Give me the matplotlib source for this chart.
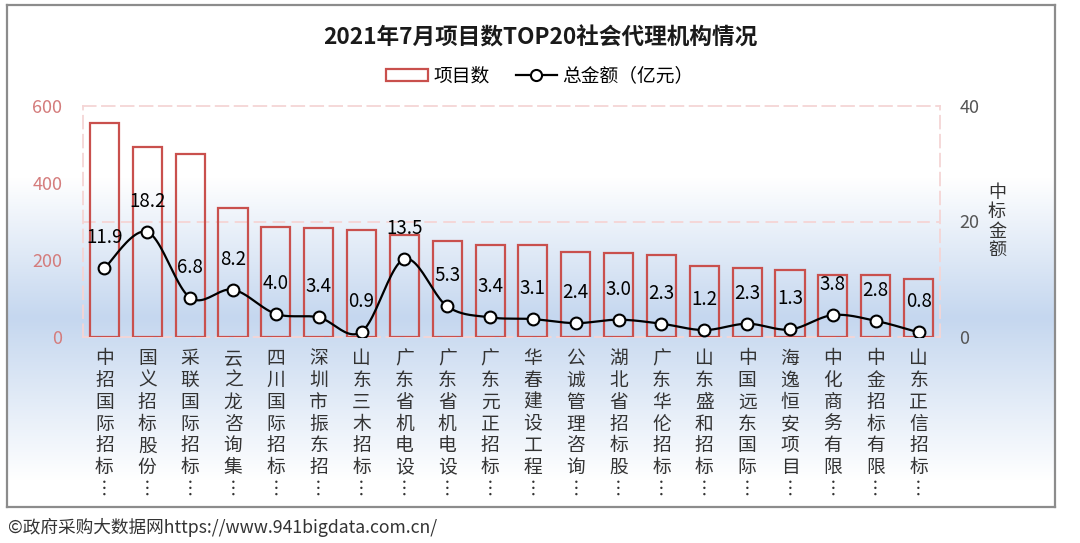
import numpy as np
import matplotlib
matplotlib.use("Agg")
import matplotlib.pyplot as plt
from matplotlib.patches import Rectangle
from matplotlib.lines import Line2D

plt.rcParams['font.family'] = ['Noto Sans CJK SC', 'DejaVu Sans']

# data
names = ["中招国际招标", "国义招标股份", "采联国际招标", "云之龙咨询集", "四川国际招标",
         "深圳市振东招", "山东三木招标", "广东省机电设", "广东省机电设", "广东元正招标",
         "华春建设工程", "公诚管理咨询", "湖北省招标股", "广东华伦招标", "山东盛和招标",
         "中国远东国际", "海逸恒安项目", "中化商务有限", "中金招标有限", "山东正信招标"]
counts = [557, 493, 475, 335, 286, 284, 277, 266, 250, 240,
          240, 221, 219, 214, 184, 180, 175, 162, 160, 151]
amounts = [11.9, 18.2, 6.8, 8.2, 4.0, 3.4, 0.9, 13.5, 5.3, 3.4,
           3.1, 2.4, 3.0, 2.3, 1.2, 2.3, 1.3, 3.8, 2.8, 0.8]

title = "2021年7月项目数TOP20社会代理机构情况"
footer = "©政府采购大数据网https://www.941bigdata.com.cn/"

red = '#c9504d'
grid_c = '#f5d5d5'


def smooth_curve(x, y, n=24):
    # catmull-rom style bezier, like the "smoothed line" option of office charts
    p = np.column_stack([x, y]).astype(float)
    pts = np.vstack([p[0], p, p[-1]])
    t = np.linspace(0, 1, n)[:, None]
    out = []
    for i in range(1, len(pts) - 2):
        p0, p1, p2, p3 = pts[i - 1], pts[i], pts[i + 1], pts[i + 2]
        c1 = p1 + (p2 - p0) / 6
        c2 = p2 - (p3 - p1) / 6
        seg = ((1 - t) ** 3) * p1 + 3 * ((1 - t) ** 2) * t * c1 + 3 * (1 - t) * t ** 2 * c2 + t ** 3 * p2
        out.append(seg if i == 1 else seg[1:])
    out = np.vstack(out)
    return out[:, 0], out[:, 1]


W, H = 1080, 543
fig = plt.figure(figsize=(W / 100, H / 100), dpi=100)

# framed background with vertical gradient
fx0, fx1, fy0, fy1 = 7, 1055, 5, 507
bg = fig.add_axes([fx0 / W, 1 - fy1 / H, (fx1 - fx0) / W, (fy1 - fy0) / H], zorder=-5)
rows = np.arange(fy0, fy1)
white = np.array([1.0, 1.0, 1.0])
blue = np.array([197, 215, 239]) / 255
stops_y = [fy0, 177, 317, 480, fy1]
stops_f = [0, 0, 1, 0, 0]
f = np.interp(rows, stops_y, stops_f)[:, None]
grad = white * (1 - f) + blue * f
bg.imshow(grad[:, None, :], aspect='auto', extent=[0, 1, 0, 1])
bg.set_xticks([])
bg.set_yticks([])
for s in bg.spines.values():
    s.set_color('#8c8c8c')
    s.set_linewidth(1.6)

# main chart
ax = fig.add_axes([83 / W, 1 - 337 / H, (940 - 83) / W, (337 - 106) / H])
ax.set_facecolor('none')
x = np.arange(len(names))
ax.bar(x, counts, width=0.68, facecolor='none', edgecolor=red, linewidth=1.6, zorder=3)
ax.set_xlim(-0.5, len(names) - 0.5)
ax.set_ylim(0, 600)
ax.set_yticks([0, 200, 400, 600])
ax.tick_params(axis='y', colors='#d47c7c', labelsize=13, length=0, pad=15)
ax.axhline(300, color=grid_c, lw=1.3, ls=(0, (7, 3.5)), zorder=1)
for s in ax.spines.values():
    s.set_color(grid_c)
    s.set_linewidth(1.3)
    s.set_linestyle((0, (7, 3.5)))

labels = ["\n".join(n) + "\n︙" for n in names]
ax.set_xticks(x)
ax.set_xticklabels(labels, fontsize=13.5, color='#333333', linespacing=1.05, va='top')
ax.tick_params(axis='x', length=0, pad=8)

ax2 = ax.twinx()
ax2.set_ylim(0, 40)
ax2.set_yticks([0, 20, 40])
ax2.tick_params(axis='y', colors='#555555', labelsize=13, length=0, pad=14)
for s in ax2.spines.values():
    s.set_visible(False)
sx, sy = smooth_curve(x, amounts)
ax2.plot(sx, sy, color='black', lw=1.6, zorder=4)
ax2.plot(x, amounts, ls='none', marker='o', markersize=8.5, markerfacecolor='white',
         markeredgecolor='black', markeredgewidth=1.5, zorder=5)
for xi, v in zip(x, amounts):
    ax2.annotate(f"{v:.1f}", (xi, v), xytext=(0, 22), textcoords='offset points',
                 ha='center', va='center', fontsize=13.5, color='black')

fig.text(997 / W, 1 - 222 / H, "\n".join("中标金额"), fontsize=13, color='#333333',
         ha='center', va='center', linespacing=1.1)

fig.text(540 / W, 1 - 38 / H, title, fontsize=16.3, fontweight='bold', color='#1a1a1a',
         ha='center', va='center')

handles = [Rectangle((0, 0), 1, 1, facecolor='none', edgecolor=red, linewidth=1.6),
           Line2D([], [], color='black', lw=1.6, marker='o', markersize=8,
                  markerfacecolor='white', markeredgecolor='black', markeredgewidth=1.5)]
fig.legend(handles, ["项目数", "总金额（亿元）"], loc='center', ncol=2,
           bbox_to_anchor=(540 / W, 1 - 76 / H), frameon=False, fontsize=13.5,
           handlelength=2.2, handleheight=0.6, handletextpad=0.3, columnspacing=1.4)

fig.text(8 / W, 1 - 527 / H, footer, fontsize=12.7, color='#333333', ha='left', va='center')

fig.savefig("out.png", dpi=100)
